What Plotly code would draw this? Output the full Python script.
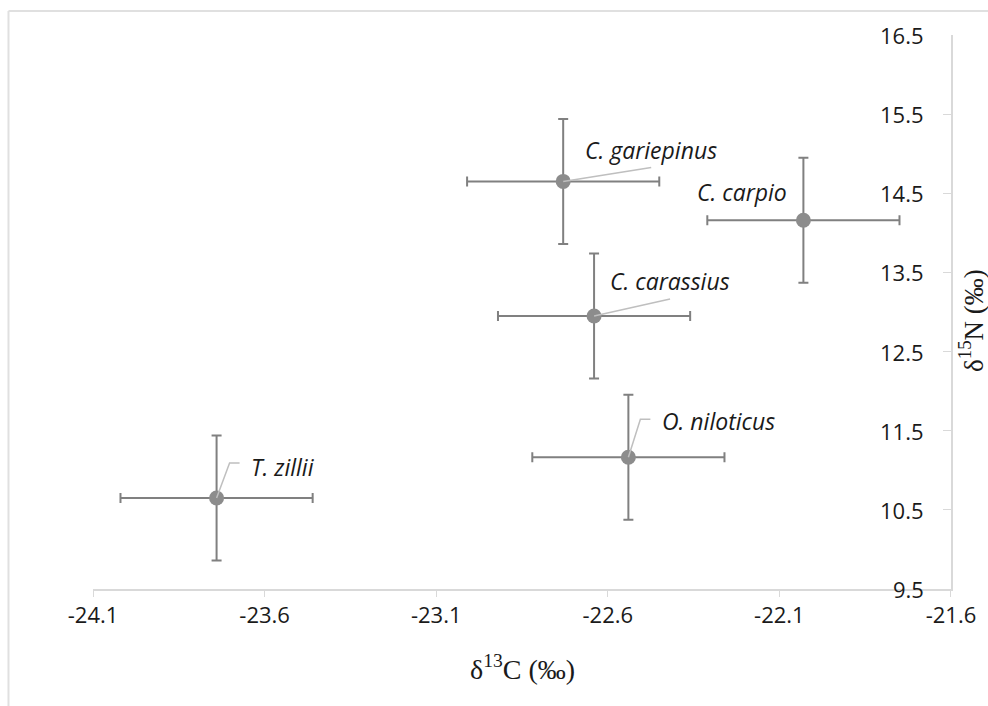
import plotly.graph_objects as go

species = ["T. zillii", "C. gariepinus", "C. carpio", "C. carassius", "O. niloticus"]
d13C = [-23.74, -22.73, -22.03, -22.64, -22.54]
d15N = [10.65, 14.65, 14.16, 12.95, 11.165]
sd13C = [0.28, 0.28, 0.28, 0.28, 0.28]
sd15N = [0.79, 0.79, 0.79, 0.79, 0.79]

x_ticks = [-24.1, -23.6, -23.1, -22.6, -22.1, -21.6]
y_ticks = [9.5, 10.5, 11.5, 12.5, 13.5, 14.5, 15.5, 16.5]

# label offsets in pixels (dx, dy; dy positive = up) and leader line paths
label_off = [(66, 31), (88, 31), (-61, 28), (76, 35), (90, 36)]
leaders = [
    "M0,0 L13,35 L23,35",
    "M0,0 L88,14",
    None,
    "M0,0 L76,17",
    "M0,0 L12,38 L22,38",
]

fig = go.Figure()
fig.add_trace(go.Scatter(
    x=d13C, y=d15N, mode="markers",
    marker=dict(size=15, color="#8c8c8c"),
    error_x=dict(type="data", array=sd13C, color="#808080", thickness=2, width=5),
    error_y=dict(type="data", array=sd15N, color="#808080", thickness=2, width=5),
    showlegend=False, hoverinfo="skip",
))

shapes = []
for xv, yv, p in zip(d13C, d15N, leaders):
    if p:
        shapes.append(dict(type="path", xref="x", yref="y", xsizemode="pixel", ysizemode="pixel",
                           xanchor=xv, yanchor=yv, path=p,
                           line=dict(color="#bfbfbf", width=1.5), layer="above"))
# image frame lines (top and left)
shapes.append(dict(type="line", xref="paper", yref="paper", x0=-0.0985, x1=1.05, y0=1.0433, y1=1.0433,
                   line=dict(color="#e0e0e0", width=2)))
shapes.append(dict(type="line", xref="paper", yref="paper", x0=-0.0985, x1=-0.0985, y0=-0.22, y1=1.0433,
                   line=dict(color="#e0e0e0", width=2)))

annotations = []
for name, xv, yv, (dx, dy) in zip(species, d13C, d15N, label_off):
    annotations.append(dict(x=xv, y=yv, xref="x", yref="y", text="<i>" + name + "</i>",
                            showarrow=True, arrowcolor="rgba(0,0,0,0)", ax=dx, ay=-dy,
                            font=dict(family="Open Sans", size=23, color="#1a1a1a")))
# y tick labels drawn to the left of the right-side axis
for v in y_ticks:
    annotations.append(dict(x=0.971, y=v, xref="paper", yref="y", text=str(v), showarrow=False,
                            xanchor="right", yanchor="middle",
                            font=dict(family="Open Sans", size=22, color="#1a1a1a")))
# axis titles
annotations.append(dict(x=0.501, y=-0.141, xref="paper", yref="paper", text="δ<sup>13</sup>C (‰)",
                        showarrow=False, xanchor="center", yanchor="middle",
                        font=dict(family="Liberation Serif", size=28, color="#1a1a1a")))
annotations.append(dict(x=1.0235, y=0.484, xref="paper", yref="paper", text="δ<sup>15</sup>N (‰)",
                        showarrow=False, xanchor="center", yanchor="middle", textangle=-90,
                        font=dict(family="Liberation Serif", size=27, color="#1a1a1a")))

fig.update_layout(
    width=988, height=706,
    margin=dict(l=93, r=37, t=35, b=117),
    paper_bgcolor="white", plot_bgcolor="white",
    shapes=shapes, annotations=annotations,
    xaxis=dict(range=[-24.1001, -21.5999], tickvals=x_ticks, ticktext=[str(v) for v in x_ticks],
               automargin=False,
               showgrid=False, zeroline=False, showline=True, linecolor="#d9d9d9", linewidth=1.5,
               ticks="outside", ticklen=6, tickcolor="#d9d9d9",
               tickfont=dict(family="Open Sans", size=22, color="#1a1a1a")),
    yaxis=dict(range=[9.5, 16.5], tickvals=y_ticks, automargin=False,
               side="right", showgrid=False, zeroline=False, showline=True, linecolor="#d9d9d9", linewidth=1.5,
               ticks="inside", ticklen=8, tickcolor="#d9d9d9", showticklabels=False),
)

fig.write_html("out.html", config={"displayModeBar": False},
               post_script="document.body.style.margin='0';document.body.style.overflow='hidden';")
